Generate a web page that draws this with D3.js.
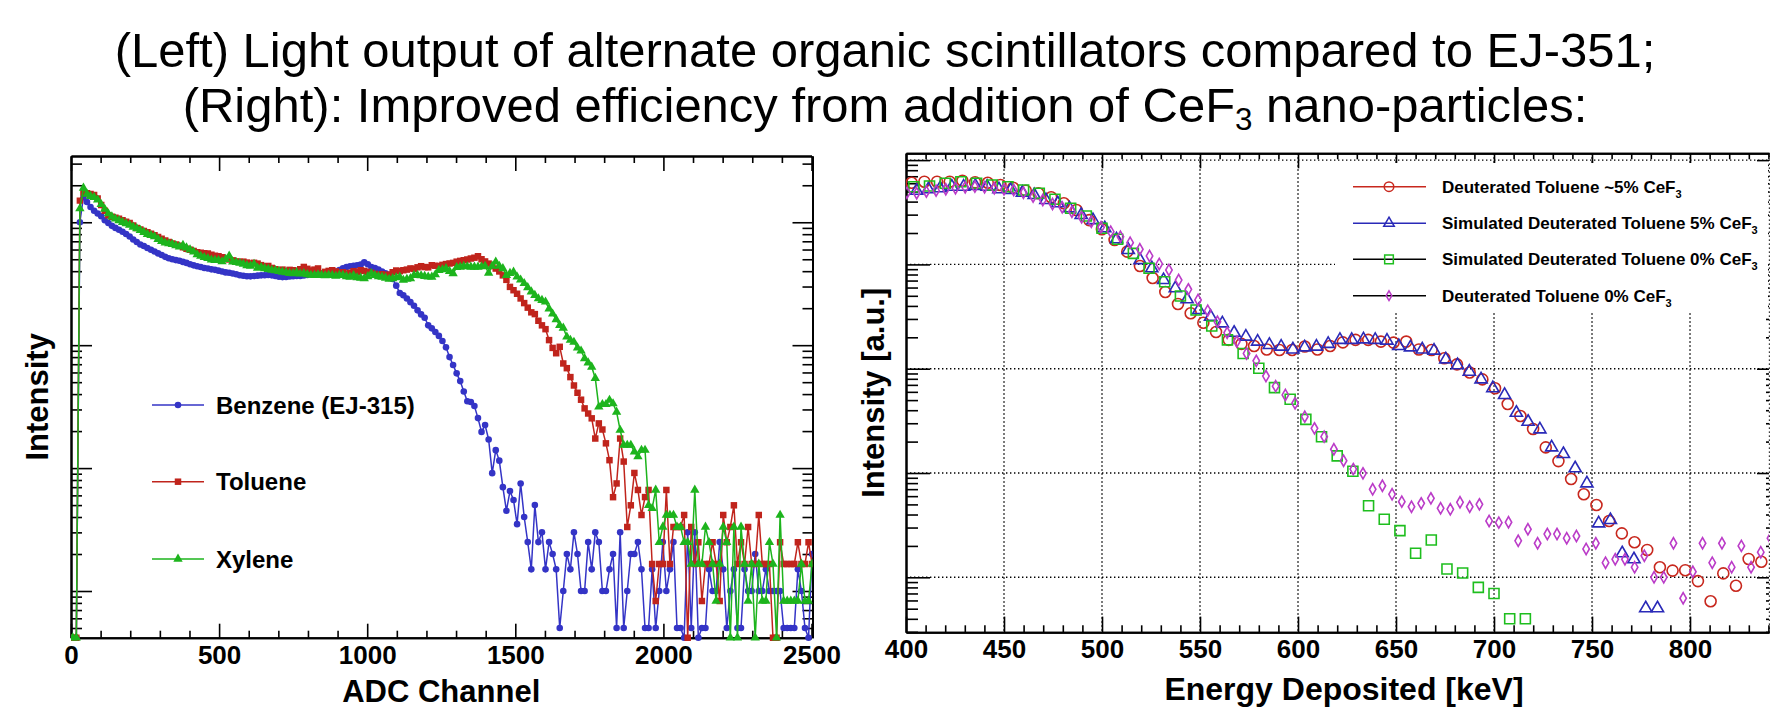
<!DOCTYPE html>
<html>
<head>
<meta charset="utf-8">
<script src="https://cdn.jsdelivr.net/npm/d3@7"></script>
<style>
  body { margin: 0; background: #fff; }
  svg { display: block; font-family: "Liberation Sans", Arial, Helvetica, sans-serif; }
</style>
</head>
<body>
<div id="chart"></div>
<script>
'use strict';

/* Data */

// left panel: light output spectra, bins of 12 ADC channels (first bin centre = 6)
var adcFirstBin = 6, adcBinWidth = 12;
var adcTicks = [0, 500, 1000, 1500, 2000, 2500];

var benzene = [
  0, 0, 1000, 1600, 1460, 1330, 1240, 1180, 1120, 1040,
  985, 935, 900, 868, 838, 803, 765, 723, 690, 660,
  640, 618, 598, 578, 558, 541, 523, 510, 500, 492,
  486, 476, 467, 456, 446, 438, 432, 425, 420, 414,
  410, 404, 398, 391, 388, 383, 378, 371, 367, 364,
  363, 365, 368, 370, 371, 372, 370, 366, 360, 358,
  359, 362, 364, 365, 366, 369, 372, 380, 382, 377,
  376, 376, 378, 382, 396, 408, 422, 433, 438, 443,
  447, 452, 472, 455, 432, 424, 412, 398, 385, 373,
  345, 305, 266, 255, 240, 224, 209, 192, 178, 167,
  145, 137, 128, 119, 108, 96, 80, 69, 59, 51,
  42, 35, 34.5, 32, 25.5, 19.7, 22.4, 17.1, 9.1, 14,
  11.5, 7, 4.5, 6.5, 5.5, 3.5, 7.5, 4, 2.5, 1.5,
  5, 2.5, 3, 1.5, 2.5, 2, 1.5, 0.5, 1, 2,
  1.5, 3, 2, 1, 1, 2.5, 1.5, 3, 2.5, 1,
  1, 1.5, 2, 0.5, 3, 0.5, 1, 2, 2, 2.5,
  1.5, 0.5, 0.5, 1.5, 0.5, 1, 2.5, 1, 1.5, 2.5,
  0.5, 0.5, 0, 3, 0.5, 3, 0, 0.5, 0.5, 1.5,
  1, 1, 2.5, 1.5, 0.5, 1, 1.5, 0.5, 0.5, 1.5,
  1, 1, 2, 1, 1, 1.5, 1, 1, 1, 1,
  0.5, 0.5, 0.5, 0.5, 1.5, 1, 0.5, 0, 2
];

var toluene = [
  0, 0, 1500, 1750, 1720, 1700, 1670, 1560, 1380, 1240,
  1140, 1110, 1090, 1070, 1040, 1010, 985, 940, 900, 875,
  850, 830, 808, 785, 760, 735, 712, 690, 672, 660,
  645, 625, 608, 598, 585, 570, 566, 560, 556, 545,
  535, 530, 520, 505, 498, 490, 480, 476, 478, 470,
  462, 468, 461, 448, 438, 441, 425, 415, 407, 412,
  400, 410, 407, 395, 415, 433, 418, 405, 412, 421,
  383, 395, 402, 407, 398, 385, 392, 383, 388, 400,
  395, 407, 402, 395, 388, 380, 371, 378, 371, 375,
  392, 405, 400, 407, 412, 421, 418, 430, 439, 432,
  430, 447, 443, 439, 450, 457, 462, 467, 478, 485,
  491, 498, 507, 515, 528, 500, 480, 461, 440, 420,
  398, 370, 340, 298, 280, 262, 240, 220, 202, 185,
  179, 158, 145, 135, 110, 95, 86, 97, 71, 65,
  55, 47, 41, 36, 30.6, 27.8, 25.4, 17.4, 23.1, 20.6,
  15.9, 11.6, 5.8, 7.5, 17.4, 11.3, 3.32, 4.98, 9.13, 6.64,
  4.15, 5.81, 6.64, 1.66, 0.83, 1.66, 1.66, 6.64, 1.66, 3.32,
  3.32, 3.32, 4.15, 0, 3.32, 1.66, 2.49, 0.83, 1.66, 1.66,
  2.49, 1.66, 0.83, 4.15, 2.49, 3.32, 4.98, 1.66, 2.49, 1.66,
  3.32, 1.66, 1.66, 4.15, 1.66, 1.66, 1.66, 0, 0, 2.49,
  1.66, 1.66, 1.66, 1.66, 2.49, 1.66, 1.66, 2.49, 1.66
];

var xylene = [
  0, 0, 1290, 1900, 1700, 1630, 1600, 1520, 1400, 1280,
  1177, 1110, 1065, 1035, 1000, 975, 950, 915, 890, 862,
  830, 800, 783, 765, 728, 700, 680, 670, 662, 645,
  632, 650, 620, 598, 574, 545, 530, 518, 508, 495,
  491, 490, 478, 500, 532, 476, 472, 465, 457, 445,
  441, 457, 425, 430, 421, 415, 408, 405, 400, 394,
  390, 385, 383, 390, 380, 383, 376, 372, 371, 375,
  371, 368, 372, 371, 365, 371, 371, 362, 359, 370,
  355, 352, 349, 362, 383, 370, 362, 359, 352, 345,
  349, 355, 359, 338, 345, 349, 371, 371, 368, 364,
  360, 359, 375, 407, 412, 421, 400, 383, 430, 433,
  439, 436, 433, 433, 433, 436, 439, 387, 440, 476,
  440, 421, 371, 385, 394, 360, 340, 318, 295, 272,
  255, 239, 232, 225, 198, 180, 162, 145, 138, 117,
  110, 106, 95, 90, 78, 72, 66.5, 53.8, 31.5, 33,
  33, 35.7, 33.5, 28.6, 20.4, 15.4, 15.4, 15.4, 13.6, 12.4,
  14, 14, 4.98, 4.7, 6.64, 2.49, 3.32, 4.15, 4.15, 4.15,
  3.32, 3.32, 2.49, 2.49, 1.66, 6.64, 1.66, 1.66, 3.32, 2.49,
  1.66, 0.83, 1.66, 3.32, 2.49, 0, 3.32, 0, 3.32, 1.66,
  0.83, 1.66, 0, 1.66, 0.83, 0.83, 2.49, 1.66, 0, 4.15,
  0.83, 0.83, 0.83, 0.83, 0.83, 1.66, 0.83, 0.83, 1.66
];

// right panel: spectra vs deposited energy (a.u.), each with its own bin start / width in keV
var keVTicks = [400, 450, 500, 550, 600, 650, 700, 750, 800];

var dt5Start = 402.9, dt5Step = 6.47;   // Deuterated Toluene ~5% CeF3
var dt5 = [
  6070, 6210, 6210, 6210, 6345, 6125, 6070, 5770, 5435, 5090,
  4810, 4400, 3855, 3320, 2660, 2170, 1715, 1325, 966, 741,
  544, 417, 340, 276, 225, 189, 173, 165, 153, 151,
  151, 163, 153, 165, 179, 189, 189, 182, 178, 182,
  153, 151, 126, 110, 92, 79, 65, 45.9, 35.2, 26.4,
  17.6, 13.0, 8.76, 6.25, 4.93, 3.47, 2.64, 2.17, 1.83, 1.25,
  1.16, 1.17, 0.92, 0.59, 1.09, 0.83, 1.50, 1.41
];

var simDt5Start = 405.4, simDt5Step = 6;   // Simulated Deuterated Toluene 5% CeF3
var simDt5 = [
  5090, 5250, 5370, 5560, 5560, 5650, 5560, 5250, 5165, 4865,
  4625, 4140, 3855, 3450, 2980, 2660, 2220, 1740, 1375, 1100,
  918, 708, 590, 463, 365, 315, 272, 221, 203, 182,
  169, 163, 153, 160, 163, 173, 189, 189, 191, 189,
  186, 165, 160, 153, 149, 123, 108, 93.6, 79, 65,
  56, 37.8, 31.0, 26.2, 17.6, 15.2, 11.1, 7.96, 3.29, 3.54,
  1.70, 1.49, 0.505, 0.505
];

var simDt0Start = 404, simDt0Step = 8;   // Simulated Deuterated Toluene 0% CeF3
var simDt0 = [
  5560, 5650, 5995, 6210, 5995, 5770, 5560, 5165, 4810, 4210,
  3450, 2910, 2220, 1740, 1277, 918, 682, 498, 365, 257,
  189, 140, 101, 65.8, 50.9, 32.7, 22.3, 14.6, 10.4, 4.86,
  3.60, 2.80, 1.70, 2.28, 1.20, 1.10, 0.80, 0.70, 0.40, 0.40
];

var dt0Start = 400.5, dt0Step = 4.95;   // Deuterated Toluene 0% CeF3
var dt0 = [
  4865, 4810, 4980, 5090, 5250, 5370, 5485, 5560, 5485, 5370,
  5250, 5165, 4865, 4460, 4140, 3795, 3525, 3200, 2830, 2565,
  2270, 2060, 1845, 1615, 1397, 1205, 1010, 884, 708, 577,
  456, 360, 282, 221, 182, 140, 119, 85, 68, 56,
  46.6, 34.7, 26.8, 22.3, 16.9, 13.1, 10.9, 9.93, 6.98, 7.55,
  6.25, 5.31, 4.75, 5.12, 5.72, 4.59, 4.49, 5.24, 4.75, 5.01,
  3.47, 3.34, 3.37, 2.24, 2.89, 2.12, 2.60, 2.60, 2.37, 2.49,
  1.87, 2.12, 1.38, 1.49, 1.49, 1.25, 1.61, 1.00, 1.00, 2.12,
  0.63, 1.13, 2.12, 1.38, 2.12, 1.25, 2.00, 1.25, 1.74, 2.37
];

/* Drawing */

var width = 1770, height = 711;

var svg = d3.select('#chart').append('svg')
    .attr('width', width)
    .attr('height', height);

var defs = svg.append('defs');

// log-scale tick values: decades (major) or 2..9 (minor) inside the domain
function logTickValues(scale, major) {
  var d = scale.domain(), out = [];
  for (var e = Math.floor(Math.log10(d[0])); e <= Math.ceil(Math.log10(d[1])); e++) {
    for (var m = 1; m <= 9; m++) {
      var v = +(m * Math.pow(10, e)).toPrecision(6);
      if (v < d[0] || v > d[1]) continue;
      if ((m === 1) === major) out.push(v);
    }
  }
  return out;
}

// add an axis and give it the ROOT look
function addAxis(parent, axis, tx, ty) {
  var g = parent.append('g')
      .attr('transform', 'translate(' + tx + ',' + ty + ')')
      .call(axis);
  g.attr('font-family', null).attr('font-size', 26).attr('font-weight', 'bold');
  g.selectAll('.tick line').attr('stroke-width', 1.6);
  g.select('.domain').attr('stroke-width', 2);
  return g;
}

function clipRect(id, x, y, w, h) {
  defs.append('clipPath').attr('id', id)
    .append('rect').attr('x', x).attr('y', y).attr('width', w).attr('height', h);
}

// ---- title
var title = svg.append('g')
    .attr('text-anchor', 'middle')
    .attr('font-size', 49);

var line1 = title.append('text')
    .attr('x', 885).attr('y', 67)
    .text('(Left) Light output of alternate organic scintillators compared to EJ-351;');

// fit the first line to the width it has in the picture
var fs = 49 * 1541 / line1.node().getComputedTextLength();
title.attr('font-size', fs);

var line2 = title.append('text').attr('x', 885).attr('y', 122);
line2.append('tspan').text('(Right): Improved efficiency from addition of CeF');
line2.append('tspan').attr('font-size', fs * 0.64).attr('dy', fs * 0.16).text('3');
line2.append('tspan').attr('dy', -fs * 0.16).text(' nano-particles:');

// ================= left panel =================
var L = {left: 71, right: 811.5, top: 156, bottom: 637.7};

// set the ranges
var xL = d3.scaleLinear().domain([0, 2500]).range([L.left, L.right]);
var yL = d3.scaleLog().domain([0.417, 3460]).range([L.bottom, L.top]);

var left = svg.append('g');
clipRect('clipL', L.left, L.top, L.right + 1 - L.left, L.bottom + 5 - L.top);

var adcMinor = d3.range(0, 2501, 100).filter(function(v) { return v % 500 !== 0; });

// bottom
addAxis(left, d3.axisBottom(xL).tickValues(adcMinor).tickSize(-7).tickSizeOuter(0).tickFormat(''), 0, L.bottom);
addAxis(left, d3.axisBottom(xL).tickValues(adcTicks).tickSize(-14).tickSizeOuter(0).tickPadding(8)
    .tickFormat(d3.format('d')), 0, L.bottom);
// top
addAxis(left, d3.axisTop(xL).tickValues(adcMinor).tickSize(-7).tickSizeOuter(0).tickFormat(''), 0, L.top);
addAxis(left, d3.axisTop(xL).tickValues(adcTicks).tickSize(-15).tickSizeOuter(0).tickFormat(''), 0, L.top);
// left
addAxis(left, d3.axisLeft(yL).tickValues(logTickValues(yL, false)).tickSize(-11).tickSizeOuter(0).tickFormat(''), L.left, 0);
addAxis(left, d3.axisLeft(yL).tickValues(logTickValues(yL, true)).tickSize(-21).tickSizeOuter(0).tickFormat(''), L.left, 0);
// right
addAxis(left, d3.axisRight(yL).tickValues(logTickValues(yL, false)).tickSize(-10).tickSizeOuter(0).tickFormat(''), L.right + 1, 0);
addAxis(left, d3.axisRight(yL).tickValues(logTickValues(yL, true)).tickSize(-20).tickSizeOuter(0).tickFormat(''), L.right + 1, 0);

var leftSeries = [
  {name: 'Benzene (EJ-315)', values: benzene, color: '#3434c6', symbol: d3.symbolCircle, size: 34, ly: 405},
  {name: 'Toluene', values: toluene, color: '#c0241c', symbol: d3.symbolSquare, size: 42, ly: 481.7},
  {name: 'Xylene', values: xylene, color: '#1db41d', symbol: d3.symbolTriangle, size: 38, ly: 559}
];

function adcOf(i) { return adcFirstBin + i * adcBinWidth; }
function yLclamp(v) { return yL(v > 0 ? v : yL.domain()[0]); }

var plotL = left.append('g').attr('clip-path', 'url(#clipL)');

leftSeries.forEach(function(s) {
  var line = d3.line()
      .x(function(v, i) { return xL(adcOf(i)); })
      .y(function(v) { return yLclamp(v); });

  plotL.append('path')
      .datum(s.values)
      .attr('d', line)
      .attr('fill', 'none')
      .attr('stroke', s.color)
      .attr('stroke-width', 1.5);

  plotL.selectAll(null)
      .data(s.values)
    .enter().append('path')
      .attr('transform', function(v, i) { return 'translate(' + xL(adcOf(i)) + ',' + yLclamp(v) + ')'; })
      .attr('d', d3.symbol().type(s.symbol).size(s.size))
      .attr('fill', s.color);

  // legend entry
  left.append('line')
      .attr('x1', 152).attr('x2', 204).attr('y1', s.ly).attr('y2', s.ly)
      .attr('stroke', s.color).attr('stroke-width', 1.5);
  left.append('path')
      .attr('transform', 'translate(178,' + s.ly + ')')
      .attr('d', d3.symbol().type(s.symbol).size(s.size))
      .attr('fill', s.color);
  left.append('text')
      .attr('x', 216).attr('y', s.ly + 8.6)
      .attr('font-size', 24).attr('font-weight', 'bold')
      .text(s.name);
});

// axis titles
left.append('text')
    .attr('x', (L.left + L.right) / 2).attr('y', 701.7)
    .attr('text-anchor', 'middle')
    .attr('font-size', 31).attr('font-weight', 'bold')
    .text('ADC Channel');

left.append('text')
    .attr('transform', 'translate(48,' + (L.top + L.bottom) / 2 + ') rotate(-90)')
    .attr('text-anchor', 'middle')
    .attr('font-size', 31).attr('font-weight', 'bold')
    .text('Intensity');

// ================= right panel =================
var R = {left: 906, right: 1769, top: 153.3, bottom: 632.3};

var xR = d3.scaleLinear().domain([400, 840.3]).range([R.left, R.right]);
var yR = d3.scaleLog().domain([0.297, 11620]).range([R.bottom, R.top]);

var right = svg.append('g');
clipRect('clipR', R.left, R.top, R.right - R.left, R.bottom - R.top);

// dotted grid
var grid = right.append('g')
    .attr('stroke', '#000')
    .attr('stroke-width', 1.4)
    .attr('stroke-dasharray', '1.4,2.6');

grid.selectAll('.gx')
    .data(keVTicks.slice(1))
  .enter().append('line')
    .attr('x1', function(d) { return xR(d); }).attr('x2', function(d) { return xR(d); })
    .attr('y1', R.top).attr('y2', R.bottom);

grid.selectAll('.gy')
    .data(logTickValues(yR, true))
  .enter().append('line')
    .attr('x1', R.left).attr('x2', R.right)
    .attr('y1', function(d) { return yR(d); }).attr('y2', function(d) { return yR(d); });

var keVMinor = d3.range(400, 841, 10).filter(function(v) { return v % 50 !== 0; });

// bottom
addAxis(right, d3.axisBottom(xR).tickValues(keVMinor).tickSize(-7).tickSizeOuter(0).tickFormat(''), 0, R.bottom);
addAxis(right, d3.axisBottom(xR).tickValues(keVTicks).tickSize(-15.7).tickSizeOuter(0).tickPadding(7.5)
    .tickFormat(d3.format('d')), 0, R.bottom);
// top
addAxis(right, d3.axisTop(xR).tickValues(keVMinor).tickSize(-6).tickSizeOuter(0).tickFormat(''), 0, R.top);
addAxis(right, d3.axisTop(xR).tickValues(keVTicks).tickSize(-15).tickSizeOuter(0).tickFormat(''), 0, R.top);
// left
addAxis(right, d3.axisLeft(yR).tickValues(logTickValues(yR, false)).tickSize(-12).tickSizeOuter(0).tickFormat(''), R.left, 0);
addAxis(right, d3.axisLeft(yR).tickValues(logTickValues(yR, true)).tickSize(-24).tickSizeOuter(0).tickFormat(''), R.left, 0);
// right edge (cut by the picture border)
addAxis(right, d3.axisRight(yR).tickValues(logTickValues(yR, false)).tickSize(-3).tickSizeOuter(0).tickFormat(''), R.right, 0)
  .select('.domain').attr('stroke-width', 1.4).attr('stroke-dasharray', '1.4,2.6');
addAxis(right, d3.axisRight(yR).tickValues(logTickValues(yR, true)).tickSize(-12).tickSizeOuter(0).tickFormat(''), R.right, 0)
  .select('.domain').remove();

var rightSeries = [
  {name: 'Deuterated Toluene ~5% CeF', values: dt5, start: dt5Start, step: dt5Step,
   color: '#c8281e', line: '#c8281e', symbol: d3.symbolCircle, size: 95, ly: 186.7},
  {name: 'Simulated Deuterated Toluene 5% CeF', values: simDt5, start: simDt5Start, step: simDt5Step,
   color: '#2a2ab8', line: '#2a2ab8', symbol: d3.symbolTriangle, size: 64, ly: 223.3},
  {name: 'Simulated Deuterated Toluene 0% CeF', values: simDt0, start: simDt0Start, step: simDt0Step,
   color: '#1ebe1e', line: '#000', symbol: d3.symbolSquare, size: 100, ly: 259.3},
  {name: 'Deuterated Toluene 0% CeF', values: dt0, start: dt0Start, step: dt0Step,
   color: '#bb3cc8', line: '#000', symbol: d3.symbolDiamond, size: 36, ly: 295.7}
];

var plotR = right.append('g').attr('clip-path', 'url(#clipR)');

rightSeries.forEach(function(s) {
  plotR.selectAll(null)
      .data(s.values)
    .enter().append('path')
      .attr('transform', function(v, i) {
        return 'translate(' + xR(s.start + i * s.step) + ',' + yR(v) + ')';
      })
      .attr('d', d3.symbol().type(s.symbol).size(s.size))
      .attr('fill', 'none')
      .attr('stroke', s.color)
      .attr('stroke-width', 1.6);
});

// legend (white box hides the grid behind it)
var legR = right.append('g');
legR.append('rect')
    .attr('x', 1335).attr('y', 163).attr('width', 433).attr('height', 150)
    .attr('fill', '#fff');

rightSeries.forEach(function(s) {
  legR.append('line')
      .attr('x1', 1353).attr('x2', 1426).attr('y1', s.ly).attr('y2', s.ly)
      .attr('stroke', s.line).attr('stroke-width', 1.4);
  legR.append('path')
      .attr('transform', 'translate(1389,' + s.ly + ')')
      .attr('d', d3.symbol().type(s.symbol).size(s.size * 0.75))
      .attr('fill', 'none')
      .attr('stroke', s.color)
      .attr('stroke-width', 1.5);
  var t = legR.append('text')
      .attr('x', 1442).attr('y', s.ly + 6.1)
      .attr('font-size', 17).attr('font-weight', 'bold');
  t.append('tspan').text(s.name);
  t.append('tspan').attr('font-size', 11).attr('dy', 5).text('3');
});

// axis titles
right.append('text')
    .attr('x', 1344).attr('y', 700)
    .attr('text-anchor', 'middle')
    .attr('font-size', 32).attr('font-weight', 'bold')
    .text('Energy Deposited [keV]');

right.append('text')
    .attr('transform', 'translate(884,' + (R.top + R.bottom) / 2 + ') rotate(-90)')
    .attr('text-anchor', 'middle')
    .attr('font-size', 31).attr('font-weight', 'bold')
    .text('Intensity [a.u.]');
</script>
</body>
</html>
